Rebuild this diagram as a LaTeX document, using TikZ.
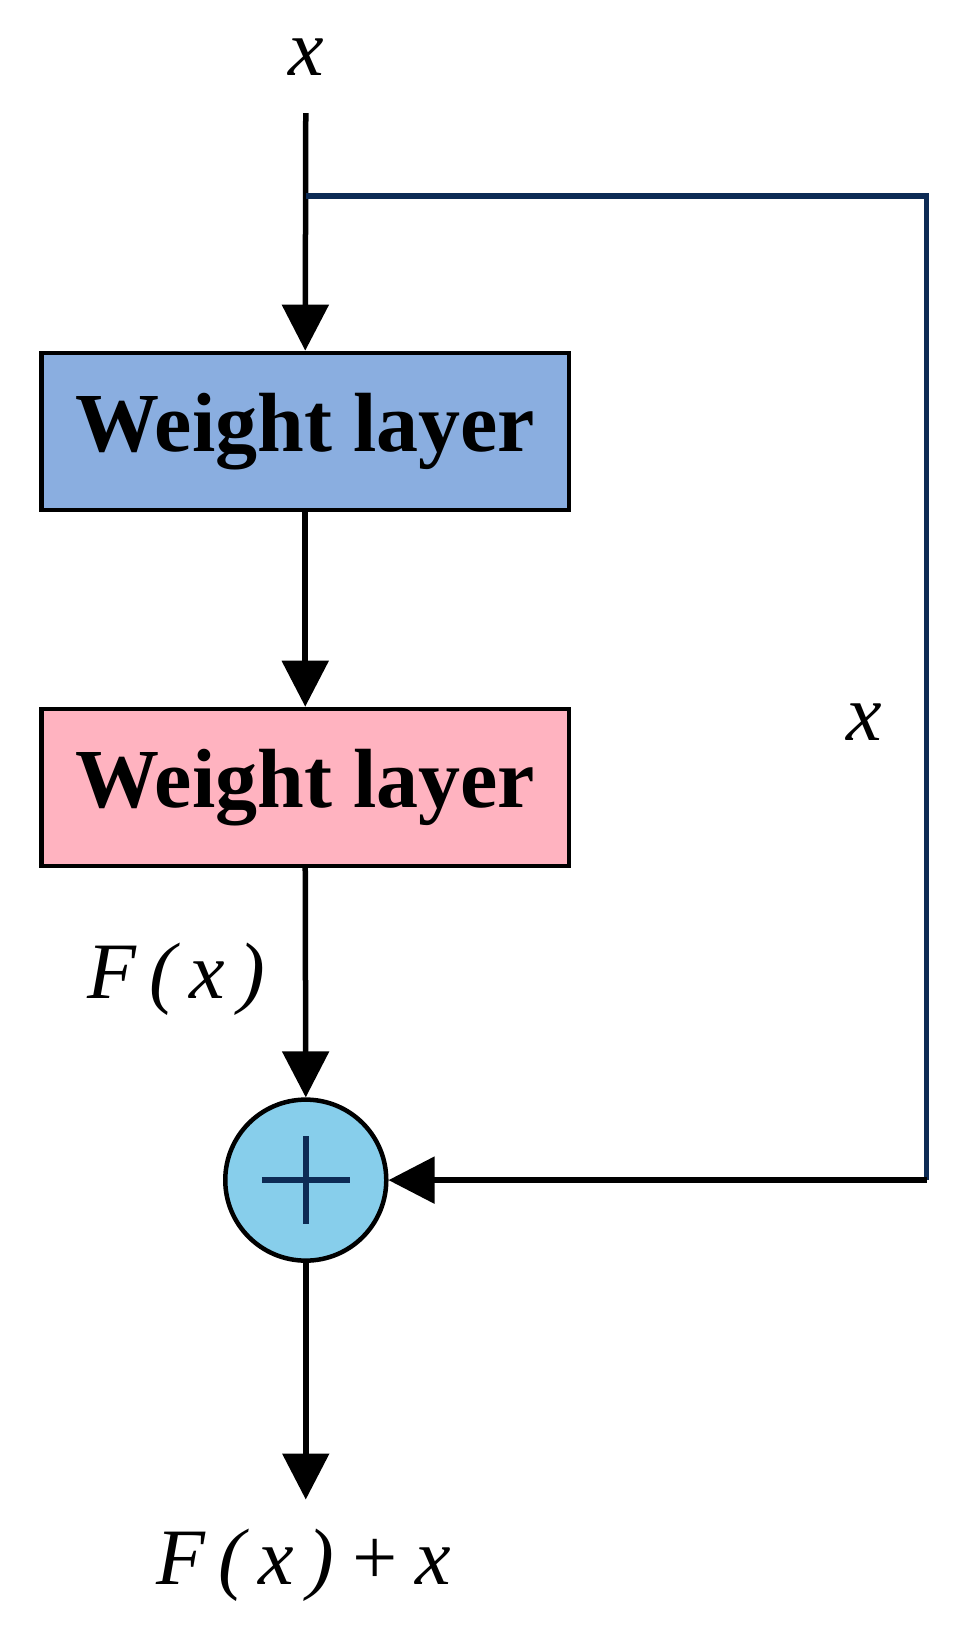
\documentclass[tikz,border=0pt]{standalone}
\usepackage{fontspec}
\setmainfont{Liberation Serif}
\usetikzlibrary{arrows.meta}
\definecolor{boxblue}{HTML}{8AAEE0}
\definecolor{boxpink}{HTML}{FFB3C0}
\definecolor{sumblue}{HTML}{87CEEB}
\definecolor{navy}{HTML}{0D2B55}
\begin{document}
\begin{tikzpicture}[x=1.047pt,y=-1.047pt,
  box/.style={draw=black,line width=4.5pt,minimum width=527pt,minimum height=157pt,inner sep=0pt,font=\fontsize{84}{86}\selectfont\bfseries},
  arr/.style={line width=5.5pt,-{Triangle[length=46pt,width=46pt]}},
  lbl/.style={font=\fontsize{80}{84}\selectfont\itshape,inner sep=0pt}]
\useasboundingbox (0,0) rectangle (914,1570);
\node[lbl] (xin) at (292,55) {x};
\node[box,fill=boxblue] (b1) at (291.5,412) {Weight layer};
\node[box,fill=boxpink] (b2) at (291.5,752) {Weight layer};
\node[circle,draw=black,line width=4.5pt,fill=sumblue,minimum size=161pt,inner sep=0pt] (sum) at (292,1127) {};
\draw[line width=6pt,navy] (sum.center)++(-42,0) -- ++(84,0);
\draw[line width=6pt,navy] (sum.center)++(0,-42) -- ++(0,84);
\node[lbl] (xr) at (825,690) {x};
\node[lbl] (fx) at (168,935) {F\,(\,x\,)};
\node[lbl] (out) at (290,1495) {F\,(\,x\,)\,+\,x};
\coordinate (top) at (292,108);
\coordinate (br) at (292,187);
\coordinate (c1) at (885,187);
\coordinate (c2) at (885,1127);
\coordinate (end) at (292,1432);
\draw[arr] (top) -- (b1.north);
\draw[arr] (b1.south) -- (b2.north);
\draw[arr] (b2.south) -- (sum.north);
\draw[arr] (sum.south) -- (end);
\draw[line width=5.5pt,navy] (br) -- (c1) -- (c2);
\draw[arr] (c2) -- (sum.east);
\end{tikzpicture}
\end{document}
